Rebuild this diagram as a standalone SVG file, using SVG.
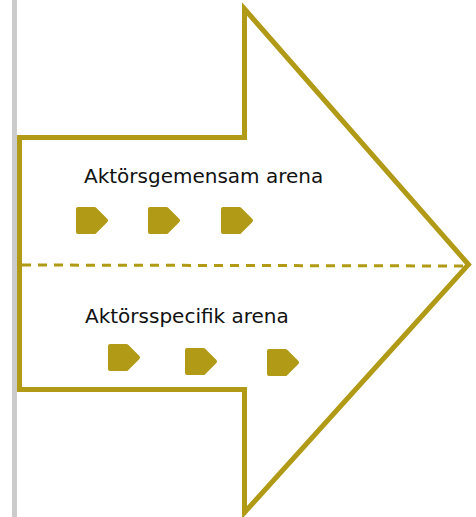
<svg xmlns="http://www.w3.org/2000/svg" width="476" height="517" viewBox="0 0 476 517">
<style>
.ol{fill:none;stroke:#b09a16;stroke-width:5;stroke-linejoin:miter}
.dash{fill:none;stroke:#b09a16;stroke-width:3;stroke-dasharray:9 7}
.chev{fill:#b09a16;stroke:#b09a16;stroke-width:4;stroke-linejoin:round}
.lbl{font-family:"DejaVu Sans",Verdana,sans-serif;font-size:20px;fill:#111}
</style>
<defs>
<path id="chev" d="M2,2 H18.5 L30,13.5 L18.5,25 H2 Z"/>
</defs>
<rect x="12" y="0" width="5" height="517" fill="#cccccc"/>
<g id="arrow">
<path class="ol" d="M19.5,137.5 H244.5 V9 L468.5,264.5 L244.5,512.5 V389.5 H19.5 Z"/>
</g>
<g id="connectors">
<line class="dash" x1="22" y1="265" x2="466" y2="266"/>
</g>
<g id="shared">
<text class="lbl" x="84" y="183">Aktörsgemensam arena</text>
<use href="#chev" class="chev" x="76" y="207"/>
<use href="#chev" class="chev" x="148" y="207"/>
<use href="#chev" class="chev" x="221" y="207"/>
</g>
<g id="specific">
<text class="lbl" x="85" y="323">Aktörsspecifik arena</text>
<use href="#chev" class="chev" x="108" y="344"/>
<use href="#chev" class="chev" x="185" y="348"/>
<use href="#chev" class="chev" x="267" y="349"/>
</g>
</svg>
